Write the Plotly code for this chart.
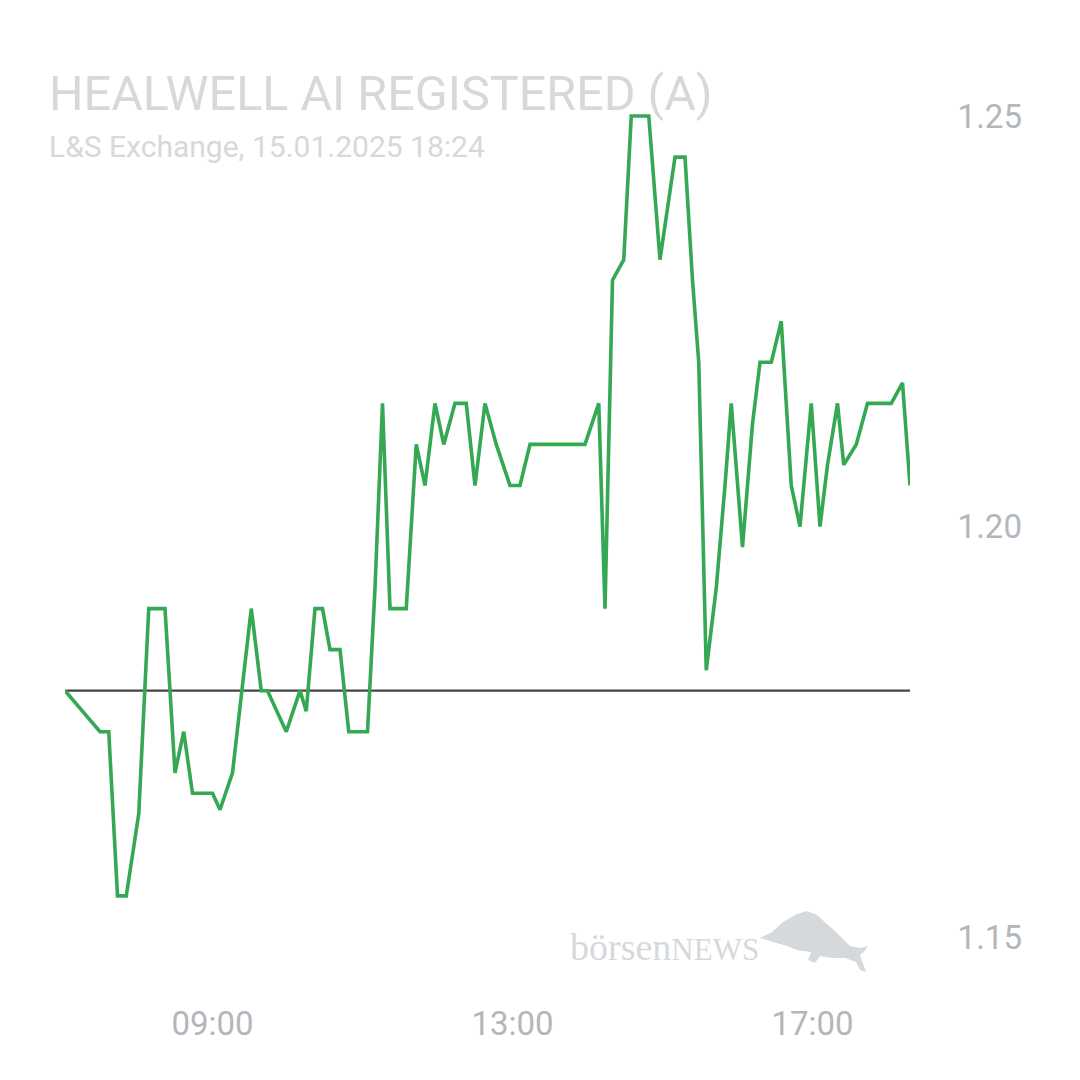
import plotly.graph_objects as go

# ---- data ----
times = ["07:02", "07:30", "07:37", "07:44", "07:51", "08:01", "08:09", "08:22", "08:30", "08:37",
         "08:44", "09:00", "09:06", "09:16", "09:31", "09:39", "09:44", "09:59", "10:10", "10:15",
         "10:22", "10:28", "10:34", "10:42", "10:49", "11:04", "11:10", "11:16", "11:22", "11:35",
         "11:43", "11:50", "11:58", "12:05", "12:14", "12:23", "12:30", "12:38", "12:47", "12:58",
         "13:06", "13:14", "13:58", "14:09", "14:14", "14:20", "14:29", "14:35", "14:49", "14:58",
         "15:10", "15:18", "15:24", "15:29", "15:35", "15:43", "15:50", "15:55", "16:04", "16:12",
         "16:18", "16:27", "16:35", "16:43", "16:50", "16:59", "17:06", "17:12", "17:20", "17:25",
         "17:35", "17:44", "18:03", "18:12", "18:18"]
prices = [1.18, 1.175, 1.175, 1.155, 1.155, 1.165, 1.19, 1.19, 1.17, 1.175,
          1.1675, 1.1675, 1.1655, 1.17, 1.19, 1.18, 1.18, 1.175, 1.18, 1.1775,
          1.19, 1.19, 1.185, 1.185, 1.175, 1.175, 1.1925, 1.215, 1.19, 1.19,
          1.21, 1.205, 1.215, 1.21, 1.215, 1.215, 1.205, 1.215, 1.21, 1.205,
          1.205, 1.21, 1.21, 1.215, 1.19, 1.23, 1.2325, 1.25, 1.25, 1.2325,
          1.245, 1.245, 1.23, 1.22, 1.1825, 1.1925, 1.205, 1.215, 1.1975, 1.2125,
          1.22, 1.22, 1.225, 1.205, 1.20, 1.215, 1.20, 1.2075, 1.215, 1.2075,
          1.21, 1.215, 1.215, 1.2175, 1.205]
prev_close = 1.18
date = "2025-01-15"
x_tick_labels = ["09:00", "13:00", "17:00"]
y_tick_values = [1.15, 1.20, 1.25]
title = "HEALWELL AI REGISTERED (A)"
subtitle = "L&S Exchange, 15.01.2025 18:24"

x = [f"{date} {t}" for t in times]
xt = [f"{date} {t}" for t in x_tick_labels]

TITLE_C = "#d6d9dc"
TICK_C = "#b3b6ba"
GREEN = "#34a853"

fig = go.Figure()
fig.add_trace(go.Scatter(x=[x[0], x[-1]], y=[prev_close, prev_close], mode="lines",
                         line=dict(color="#454545", width=2.2), hoverinfo="skip"))
fig.add_trace(go.Scatter(x=x, y=prices, mode="lines",
                         line=dict(color=GREEN, width=3.6)))

L, R, T, B = 65, 170, 75, 102
W = H = 1080
pw, ph = W - L - R, H - T - B

def px(xp):
    return (xp - L) / pw

def py(yp):
    return (H - B - yp) / ph

fig.update_layout(
    width=W, height=H, margin=dict(l=L, r=R, t=T, b=B),
    paper_bgcolor="white", plot_bgcolor="white", showlegend=False,
    font=dict(family="Roboto", color=TICK_C),
    xaxis=dict(type="date", range=[x[0], x[-1]], showgrid=False, zeroline=False,
               showline=False, tickvals=xt, ticktext=x_tick_labels,
               ticks="outside", ticklen=16, tickcolor="rgba(0,0,0,0)",
               tickfont=dict(size=33, color=TICK_C, family="Roboto")),
    yaxis=dict(range=[1.145, 1.255], side="right", showgrid=False, zeroline=False,
               showline=False, tickvals=y_tick_values,
               ticktext=[f"{v:.2f}" for v in y_tick_values],
               ticks="outside", ticklen=40, tickcolor="rgba(0,0,0,0)",
               tickfont=dict(size=33, color=TICK_C, family="Roboto")),
)

fig.add_annotation(text=title, xref="paper", yref="paper", x=px(47), y=py(93),
                   xanchor="left", yanchor="middle", showarrow=False,
                   font=dict(size=48.5, color=TITLE_C, family="Roboto"))
fig.add_annotation(text=subtitle, xref="paper", yref="paper", x=px(47), y=py(147),
                   xanchor="left", yanchor="middle", showarrow=False,
                   font=dict(size=30, color=TITLE_C, family="Roboto"))
fig.add_annotation(text="börsen<span style='font-size:31px'>NEWS</span>",
                   xref="paper", yref="paper", x=px(568), y=py(947),
                   xanchor="left", yanchor="middle", showarrow=False,
                   font=dict(size=38, color=TITLE_C, family="Liberation Serif"))

bull = [(760, 938), (772, 932), (783, 922), (797, 914), (807, 911), (817, 915), (828, 925),
        (837, 933), (850, 946), (860, 948), (868, 946), (864, 952), (860, 955), (866, 972),
        (860, 970), (856, 962), (845, 958), (833, 958), (820, 956), (815, 963), (808, 960),
        (811, 952), (797, 950), (787, 946), (773, 942)]
path = "M " + " L ".join(f"{px(a):.5f},{py(b):.5f}" for a, b in bull) + " Z"
fig.add_shape(type="path", path=path, xref="paper", yref="paper",
              fillcolor=TITLE_C, line=dict(width=0), layer="below")

fig.write_html("out.html")
